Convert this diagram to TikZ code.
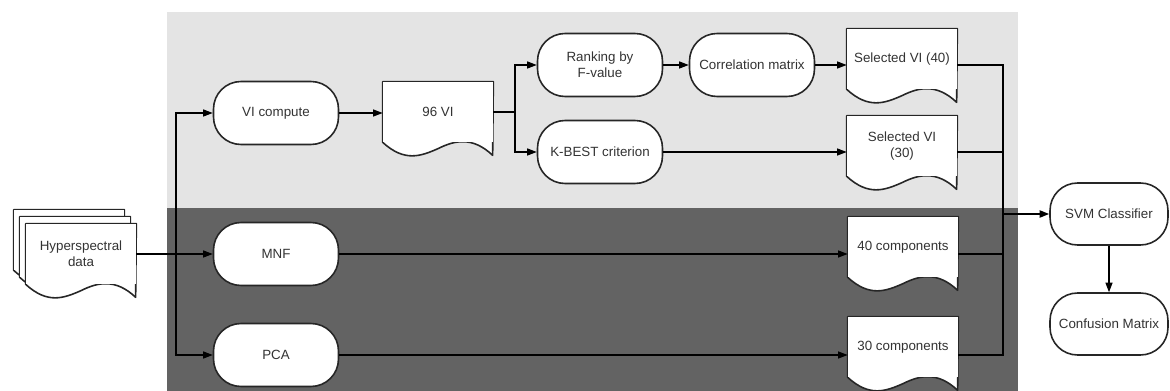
\documentclass[tikz,border=0pt]{standalone}
\usepackage{fontspec}
\setmainfont{Liberation Sans}
\usetikzlibrary{arrows.meta,calc}
\definecolor{panelLight}{RGB}{228,228,228}
\definecolor{panelDark}{RGB}{99,99,99}

\begin{document}
\begin{tikzpicture}[
      x=0.02cm, y=-0.02cm,
      font=\fontsize{7.6}{9}\selectfont,
      proc/.style={draw=black!85, fill=white, line width=0.9pt, rounded corners=0.55cm,
        align=center, text=black!80, minimum width=2.5cm, minimum height=1.26cm},
      doc/.style={fill=white, align=center, text=black!80, inner sep=1pt,
        minimum width=2.2cm, minimum height=1.2cm,
        append after command={\pgfextra{\let\docnm\tikzlastnode
          \fill[white, shift={(\docnm.south west)}] (0,-2) -- (0,0) .. controls (22,20) and (38,14) .. (56,6)
            .. controls (72,-2) and (90,-6) .. (110,13) -- (110,-2) -- cycle;
          \draw[black!85, line width=0.9pt, line join=round, shift={(\docnm.south west)}]
            (\docnm.north west) -- (0,0) .. controls (22,20) and (38,14) .. (56,6)
            .. controls (72,-2) and (90,-6) .. (110,13) -- (\docnm.north east) -- cycle;}}},
      line/.style={line width=0.6pt},
      arrow/.style={-{Triangle[length=1.9mm,width=1.4mm]}, line width=0.6pt}
    ]
    \useasboundingbox (0,0) rectangle (1170,391);

    % Panels
    \fill[panelLight] (167,12) rectangle (1018,208);
    \fill[panelDark]  (167,208) rectangle (1018,391);

    % Input
    \node[doc] (hsb) at (69,240) {};
    \node[doc] (hsc) at (75,247) {};
    \node[doc] (hs)  at (81,254) {Hyperspectral\\data};

    % Vegetation indices
    \node[proc] (vic)   at (276,113) {VI compute};
    \node[doc]  (vi96)  at (438,112) {96 VI};
    \node[proc] (rank)  at (600,65)  {Ranking by\\F-value};
    \node[proc] (corr)  at (752,65)  {Correlation matrix};
    \node[doc]  (sel40) at (902,59)  {Selected VI (40)};
    \node[proc] (kbest) at (600,152) {K-BEST criterion};
    \node[doc]  (sel30) at (902,146) {Selected VI\\(30)};

    % Transforms
    \node[proc] (mnf)   at (276,254) {MNF};
    \node[proc] (pca)   at (276,355) {PCA};
    \node[doc]  (cmp40) at (903,247) {40 components};
    \node[doc]  (cmp30) at (903,347) {30 components};

    % Classification
    \node[proc, minimum width=2.36cm, minimum height=1.24cm] (svm)  at (1109,214) {SVM Classifier};
    \node[proc, minimum width=2.36cm, minimum height=1.24cm] (conf) at (1109,324) {Confusion Matrix};

    % Connectors
    \coordinate (split) at (176,254);
    \coordinate (fork)  at (515,112);
    \coordinate (merge) at (1003,214);

    \draw[arrow] (hs.east |- mnf) -- (mnf);
    \draw[arrow] (split) |- (vic);
    \draw[arrow] (split) |- (pca);
    \draw[arrow] (vic) -- (vi96.west |- vic);
    \draw[line, line width=1.2pt] (vi96.east) -- (fork);
    \draw[arrow] (fork) |- (rank);
    \draw[arrow] (fork) |- (kbest);
    \draw[arrow] (rank) -- (corr);
    \draw[arrow] (corr) -- (sel40.west |- corr);
    \draw[arrow] (kbest) -- (sel30.west |- kbest);
    \draw[arrow] (mnf) -- (cmp40.west |- mnf);
    \draw[arrow] (pca) -- (cmp30.west |- pca);

    \draw[line] (corr -| sel40.east) -| (merge);
    \draw[line, line width=1.1pt] (kbest -| sel30.east) -| (merge);
    \draw[line] (mnf -| cmp40.east) -| (merge);
    \draw[line] (pca -| cmp30.east) -| (merge);
    \draw[arrow, line width=1.1pt] (merge) -- (svm);
    \draw[arrow] (svm) -- (conf);
  \end{tikzpicture}
\end{document}
